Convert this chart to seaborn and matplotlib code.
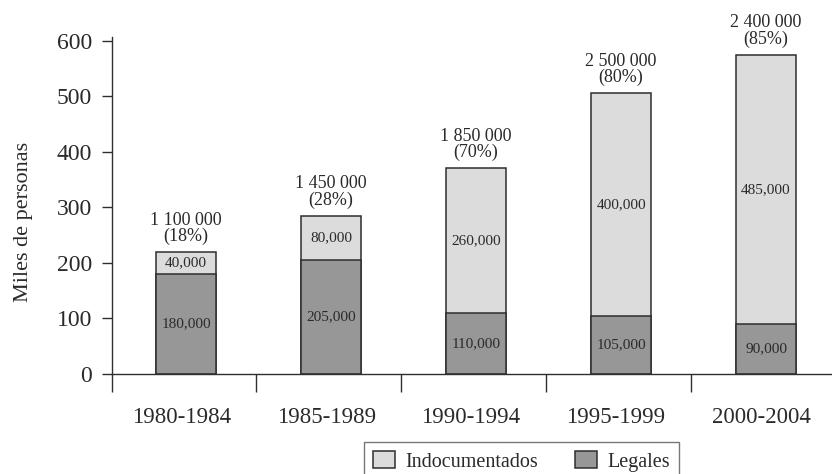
import matplotlib
matplotlib.use("Agg")
import matplotlib.pyplot as plt
import matplotlib.transforms as mtransforms
import seaborn as sns
import pandas as pd
from matplotlib.patches import Patch
from matplotlib.ticker import FixedLocator

periodos = ["1980-1984", "1985-1989", "1990-1994", "1995-1999", "2000-2004"]
legales = [180, 205, 110, 105, 90]
indocumentados = [40, 80, 260, 400, 485]
etiq_legales = ["180,000", "205,000", "110,000", "105,000", "90,000"]
etiq_indoc = ["40,000", "80,000", "260,000", "400,000", "485,000"]
etiq_total = ["1 100 000\n(18%)", "1 450 000\n(28%)", "1 850 000\n(70%)",
              "2 500 000\n(80%)", "2 400 000\n(85%)"]

df = pd.DataFrame({"periodo": periodos, "legales": legales,
                   "indocumentados": indocumentados})
df["total"] = df["legales"] + df["indocumentados"]

sns.set_style("ticks")
plt.rcParams["font.family"] = ["Liberation Serif", "DejaVu Serif"]

c_light = "#dcdcdd"
c_dark = "#979797"
c_edge = "#2e2e2e"
c_text = "#2a2a2a"

left_px = 111.5
fig = plt.figure(figsize=(8.32, 4.74), dpi=100)
ax = fig.add_axes([left_px / 832, 0.211, 1 - left_px / 832, 0.9213 - 0.211])

sns.barplot(data=df, x="periodo", y="total", color=c_light, saturation=1,
            width=0.41, edgecolor=c_edge, linewidth=1.1, ax=ax)
sns.barplot(data=df, x="periodo", y="legales", color=c_dark, saturation=1,
            width=0.41, edgecolor=c_edge, linewidth=1.1, ax=ax)

for i in range(len(periodos)):
    ax.text(i, legales[i] / 2, etiq_legales[i], ha="center", va="center",
            fontsize=11, color=c_text)
    ax.text(i, legales[i] + indocumentados[i] / 2, etiq_indoc[i], ha="center",
            va="center", fontsize=11, color=c_text)
    ax.annotate(etiq_total[i], xy=(i, df["total"][i]), xytext=(0, 5),
                textcoords="offset points", ha="center", va="bottom",
                fontsize=13, color=c_text, linespacing=0.92)

ax.set_xlim(-0.515, 4.455)
ax.set_ylim(0, 606)
ax.set_yticks([0, 100, 200, 300, 400, 500, 600])
ax.set_xlabel("")
ax.set_ylabel("Miles de personas", fontsize=16, color=c_text)
ax.yaxis.set_label_coords((33 - left_px) / (832 - left_px), 0.453)

ax.tick_params(axis="y", labelsize=17, length=7, width=1, direction="out",
               colors=c_edge, labelcolor=c_text, pad=7)
ax.tick_params(axis="x", which="major", length=0, labelsize=16.5,
               labelcolor=c_text, pad=24)
shift = mtransforms.ScaledTranslation(-5 / 100, 0, fig.dpi_scale_trans)
for lab in ax.get_xticklabels():
    lab.set_transform(lab.get_transform() + shift)
ax.xaxis.set_minor_locator(FixedLocator([k - 0.515 for k in range(6)]))
ax.tick_params(axis="x", which="minor", length=13, width=1, direction="out",
               colors=c_edge)

for s in ["top", "right"]:
    ax.spines[s].set_visible(False)
for s in ["left", "bottom"]:
    ax.spines[s].set_color(c_edge)
    ax.spines[s].set_linewidth(1)

handles = [Patch(facecolor=c_light, edgecolor=c_edge, linewidth=1.1),
           Patch(facecolor=c_dark, edgecolor=c_edge, linewidth=1.1)]
leg = fig.legend(handles, ["Indocumentados", "Legales"], loc="upper left",
                 bbox_to_anchor=(364 / 832, 1 - 442 / 474), ncol=2,
                 fontsize=14.5, frameon=True, fancybox=False,
                 handlelength=1.09, handleheight=0.95, handletextpad=0.5,
                 columnspacing=1.85, borderpad=0.45, borderaxespad=0)
leg.get_frame().set_edgecolor("#555555")
leg.get_frame().set_linewidth(1)
for t in leg.get_texts():
    t.set_color(c_text)

fig.savefig("out.png", dpi=100)
